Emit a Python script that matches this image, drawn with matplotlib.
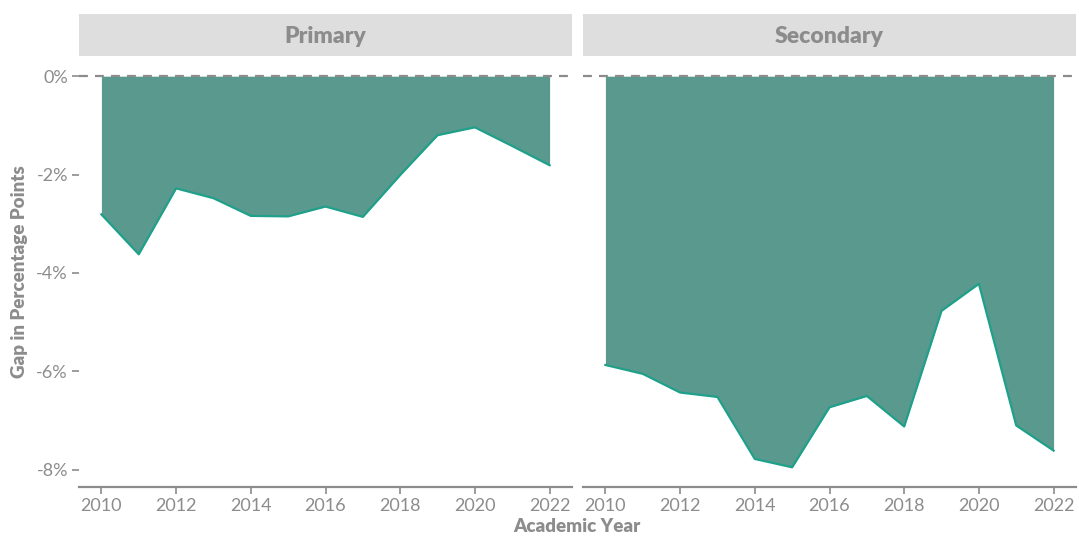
import matplotlib
matplotlib.use("Agg")
import matplotlib.pyplot as plt

years = list(range(2010, 2023))
panels = ["Primary", "Secondary"]
primary_gap = [-2.81, -3.62, -2.28, -2.48, -2.84, -2.85, -2.65, -2.86, -2.01, -1.20, -1.04, -1.42, -1.81]
secondary_gap = [-5.87, -6.05, -6.43, -6.52, -7.78, -7.95, -6.73, -6.50, -7.12, -4.77, -4.22, -7.10, -7.61]
series = [primary_gap, secondary_gap]
xticks = [2010, 2012, 2014, 2016, 2018, 2020, 2022]
yticks = [0, -2, -4, -6, -8]
ytick_labels = ["0%", "-2%", "-4%", "-6%", "-8%"]

plt.rcParams['font.family'] = ['Lato', 'DejaVu Sans']
W, H = 1079, 536
fig = plt.figure(figsize=(W / 100, H / 100), dpi=100)

fill_col = "#5A998D"
line_col = "#1FA08A"
grey = "#8C8C8C"
strip_bg = "#DEDEDE"

panel_x = [(79, 572), (583, 1076)]
top, bottom = 56, 487
strip_top = 14

for i, (name, vals) in enumerate(zip(panels, series)):
    x0, x1 = panel_x[i]
    ax = fig.add_axes([x0 / W, 1 - bottom / H, (x1 - x0) / W, (bottom - top) / H])
    ax.fill_between(years, vals, 0, color=fill_col, linewidth=0, zorder=2)
    ax.plot(years, vals, color=line_col, linewidth=1.6, zorder=3)
    ax.axhline(0, color=grey, linewidth=1.6, dashes=(4, 3.2), zorder=4)
    ax.set_xlim(2009.4, 2022.6)
    ax.set_ylim(-8.35, 0.41)
    ax.set_xticks(xticks)
    ax.set_xticklabels([str(t) for t in xticks])
    ax.set_yticks(yticks)
    for s in ["top", "right", "left"]:
        ax.spines[s].set_visible(False)
    ax.spines["bottom"].set_color(grey)
    ax.spines["bottom"].set_linewidth(1.6)
    ax.tick_params(axis="x", colors=grey, length=5, width=1.2, labelsize=13, pad=3)
    ax.tick_params(axis="y", colors=grey, length=5, width=1.2, labelsize=13, pad=3)
    if i == 0:
        ax.set_yticklabels(ytick_labels)
    else:
        ax.tick_params(axis="y", left=False, labelleft=False)
    ax.set_facecolor("white")

    sax = fig.add_axes([x0 / W, 1 - top / H, (x1 - x0) / W, (top - strip_top) / H])
    sax.set_facecolor(strip_bg)
    sax.set_xticks([])
    sax.set_yticks([])
    for s in sax.spines.values():
        s.set_visible(False)
    sax.text(0.5, 0.47, name, ha="center", va="center", fontsize=16.5, fontweight="heavy",
             color=grey, transform=sax.transAxes)

fig.text(577 / W, 1 - 526 / H, "Academic Year", ha="center", va="center",
         fontsize=13.5, fontweight="heavy", color=grey)
fig.text(20 / W, 1 - 272 / H, "Gap in Percentage Points", ha="center", va="center",
         rotation=90, fontsize=13.5, fontweight="heavy", color=grey)

fig.savefig("out.png", dpi=100, facecolor="white")
